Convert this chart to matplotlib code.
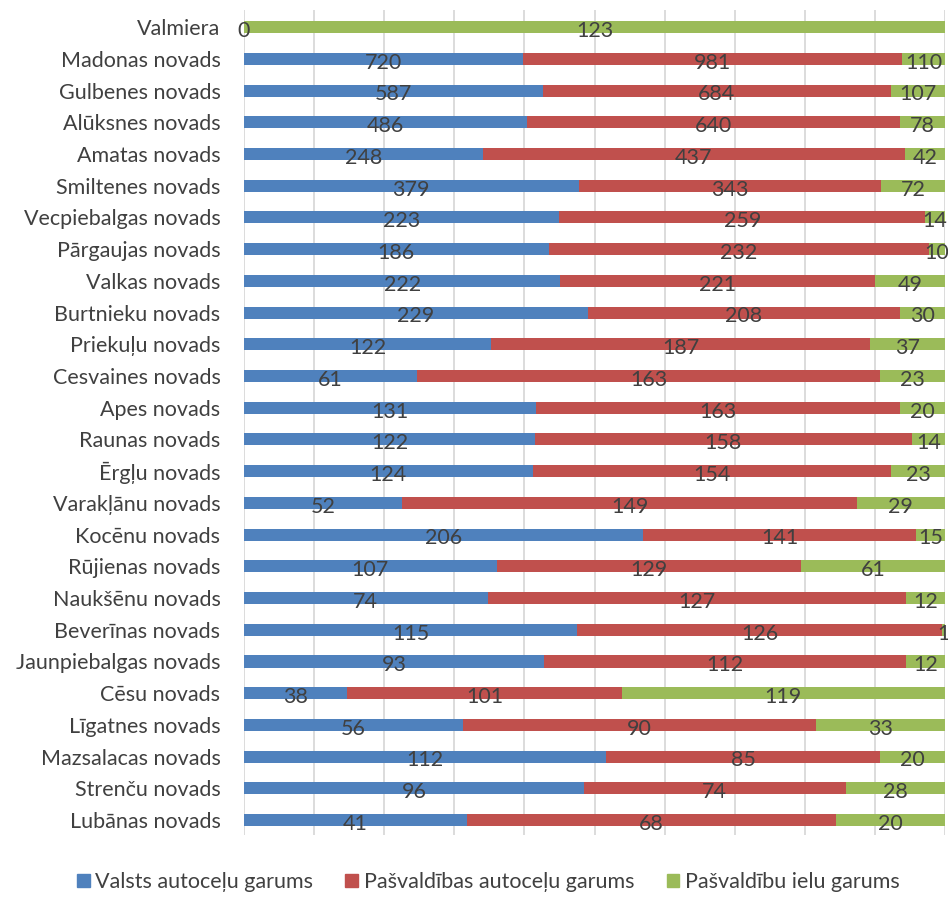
import numpy as np
import matplotlib.pyplot as plt
from matplotlib.patches import Patch

plt.rcParams['font.family'] = ['Lato', 'DejaVu Sans']

# Data (top to bottom)
novadi = ["Valmiera", "Madonas novads", "Gulbenes novads", "Alūksnes novads",
          "Amatas novads", "Smiltenes novads", "Vecpiebalgas novads",
          "Pārgaujas novads", "Valkas novads", "Burtnieku novads",
          "Priekuļu novads", "Cesvaines novads", "Apes novads", "Raunas novads",
          "Ērgļu novads", "Varakļānu novads", "Kocēnu novads",
          "Rūjienas novads", "Naukšēnu novads", "Beverīnas novads",
          "Jaunpiebalgas novads", "Cēsu novads", "Līgatnes novads",
          "Mazsalacas novads", "Strenču novads", "Lubānas novads"]
valsts = [0, 720, 587, 486, 248, 379, 223, 186, 222, 229, 122, 61, 131, 122,
          124, 52, 206, 107, 74, 115, 93, 38, 56, 112, 96, 41]
pasv_autoc = [np.nan, 981, 684, 640, 437, 343, 259, 232, 221, 208, 187, 163, 163,
              158, 154, 149, 141, 129, 127, 126, 112, 101, 90, 85, 74, 68]
pasv_ielas = [123, 110, 107, 78, 42, 72, 14, 10, 49, 30, 37, 23, 20, 14, 23,
              29, 15, 61, 12, 1, 12, 119, 33, 20, 28, 20]
series_names = ["Valsts autoceļu garums", "Pašvaldības autoceļu garums",
                "Pašvaldību ielu garums"]
colors = ["#4F81BD", "#C0504D", "#9BBB59"]
txt = "#404040"

vals = np.array([valsts, pasv_autoc, pasv_ielas], dtype=float)
totals = np.nansum(vals, axis=0)
pct = np.nan_to_num(vals) / totals * 100

fig = plt.figure(figsize=(9.48, 8.97), dpi=100)
ax = fig.add_axes([244 / 948, 1 - 835 / 897, 701 / 948, 825 / 897])

y = np.arange(len(novadi))
left = np.zeros(len(novadi))
for k in range(3):
    ax.barh(y, pct[k], left=left, height=0.38, color=colors[k], zorder=2)
    for i in range(len(novadi)):
        if np.isnan(vals[k, i]):
            continue
        ax.text(left[i] + pct[k, i] / 2, y[i] + 0.12, f"{int(vals[k, i])}",
                ha="center", va="center", fontsize=15.5, color=txt, zorder=3,
                clip_on=False)
    left += pct[k]

ax.set_xlim(0, 100)
ax.set_ylim(25.47, -0.54)
ax.set_xticks(np.arange(0, 101, 10))
ax.set_xticklabels([])
ax.tick_params(axis="x", length=0)
ax.tick_params(axis="y", length=0, pad=17, labelsize=15.5, labelcolor=txt)
ax.set_yticks(y)
ax.set_yticklabels(novadi)
ax.grid(axis="x", color="#D9D9D9", linewidth=1.3, zorder=0)
for s in ax.spines.values():
    s.set_visible(False)

handles = [Patch(color=c, label=n) for c, n in zip(colors, series_names)]
fig.legend(handles=handles, loc="lower center", bbox_to_anchor=(0.515, -0.016),
           ncol=3, frameon=False, fontsize=15.5, labelcolor=txt,
           handlelength=0.6, handleheight=0.6, handletextpad=0.25,
           columnspacing=1.5)

fig.savefig("out.png", dpi=100)
